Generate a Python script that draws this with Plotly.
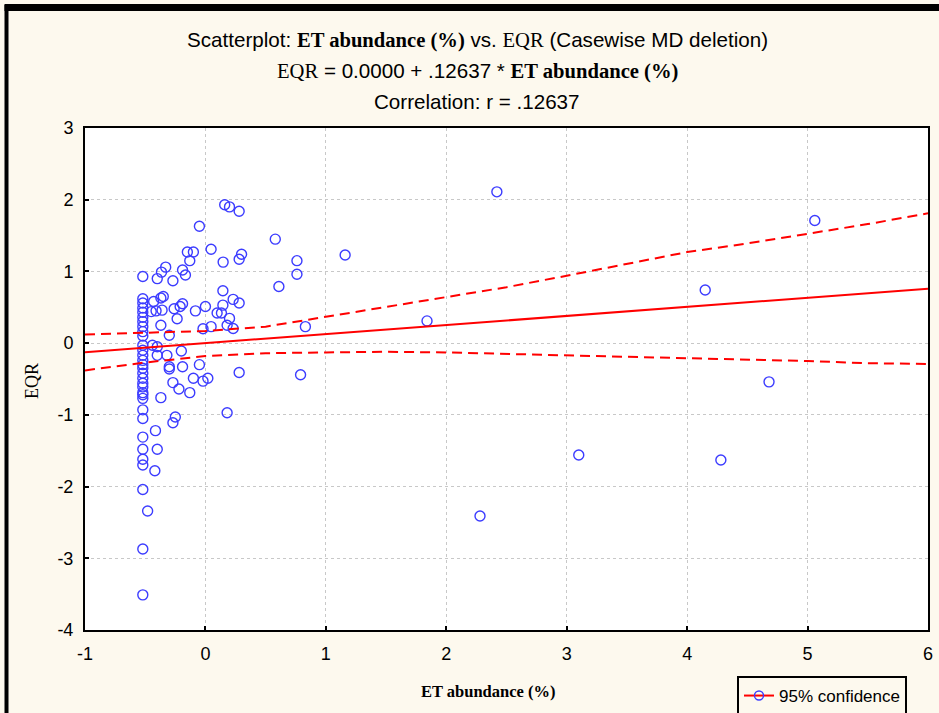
import plotly.graph_objects as go

# ---- data (standardized values) ----
col_x = -0.52
col_y = [0.93, 0.62, 0.56, 0.49, 0.43, 0.36, 0.30, 0.23, 0.16, 0.10, -0.03, -0.10,
         -0.17, -0.24, -0.30, -0.35, -0.42, -0.49, -0.56, -0.61, -0.69, -0.72, -0.77,
         -0.93, -1.05, -1.31, -1.48, -1.62, -1.70, -2.04, -2.87, -3.51]

other_x = [-0.48, -0.415, -0.40, -0.42, -0.25, -0.27, 0.18, -0.37, -0.27, -0.22, -0.13,
           -0.10, -0.02, 0.02, 0.28, 0.79, -0.05, -0.30, -0.30, -0.19, -0.20, -0.32, -0.40,
           -0.44, -0.40, -0.30, -0.02, 0.047, 0.23, 0.18, 0.20, -0.37, -0.235, -0.26, -0.21,
           -0.19, -0.083, 0.0, 0.097, 0.133, 0.145, 0.23, 0.28, 0.145, -0.43, -0.37, -0.35,
           -0.45, -0.41, -0.36, -0.40, -0.27, -0.365, -0.33, -0.19, -0.166, -0.15, -0.10,
           -0.13, 0.147, 0.047, -0.05, 0.16, 0.20, 0.28, 0.30, 0.28, 0.58, 0.76, 0.76, 0.61,
           1.16, 0.83, 1.84, 2.42, 5.06, 4.15, 4.68, 3.10, 4.28, 2.28]
other_y = [-2.34, -1.22, -1.48, -1.78, -1.03, -1.11, -0.97, -0.76, -0.55, -0.64, -0.69,
           -0.49, -0.53, -0.49, -0.41, -0.44, -0.30, -0.33, -0.36, -0.33, -0.11, -0.17, -0.17,
           -0.03, -0.05, 0.11, 0.20, 0.23, 0.205, 0.25, 0.345, 0.25, 0.34, 0.48, 0.51,
           0.55, 0.45, 0.51, 0.42, 0.42, 0.53, 0.61, 0.56, 0.73, 0.58, 0.63, 0.65,
           0.44, 0.45, 0.46, 0.90, 0.87, 0.99, 1.06, 1.02, 0.95, 1.27, 1.27,
           1.15, 1.13, 1.31, 1.63, 1.93, 1.90, 1.84, 1.24, 1.17, 1.45, 1.15, 0.96, 0.79,
           1.23, 0.23, 0.31, 2.11, 1.71, 0.74, -0.54, -1.56, -1.63, -2.41]

et_abundance = [col_x] * len(col_y) + other_x
eqr = col_y + other_y

# regression line
intercept = 0.0
slope = 0.12637
line_x = [-1, 6]
line_y = [intercept + slope * v for v in line_x]

# 95% confidence bands
band_x = [-1, -0.5, 0, 0.5, 1, 1.5, 2, 2.5, 3, 3.5, 4, 4.5, 5, 5.5, 6]
band_upper = [0.12, 0.14, 0.17, 0.23, 0.37, 0.50, 0.64, 0.78, 0.94, 1.10, 1.27, 1.39, 1.52, 1.66, 1.81]
band_lower = [-0.38, -0.27, -0.18, -0.14, -0.13, -0.12, -0.13, -0.15, -0.17, -0.18, -0.20, -0.22, -0.25, -0.28, -0.29]

x_ticks = [-1, 0, 1, 2, 3, 4, 5, 6]
y_ticks = [-4, -3, -2, -1, 0, 1, 2, 3]

SANS = "Liberation Sans, Arial, sans-serif"
SERIF = "Liberation Serif, Times New Roman, serif"
BG = "#FDF9EE"
BLUE = "#3C3CFF"
RED = "#FF0000"

fig = go.Figure()
fig.add_trace(go.Scatter(x=et_abundance, y=eqr, mode="markers",
                         marker=dict(symbol="circle-open", size=10, color=BLUE,
                                     line=dict(width=1.4, color=BLUE)),
                         showlegend=False, hoverinfo="skip"))
fig.add_trace(go.Scatter(x=line_x, y=line_y, mode="lines",
                         line=dict(color=RED, width=2), showlegend=False))
fig.add_trace(go.Scatter(x=band_x, y=band_upper, mode="lines",
                         line=dict(color=RED, width=2, dash="10px,6px"), showlegend=False))
fig.add_trace(go.Scatter(x=band_x, y=band_lower, mode="lines",
                         line=dict(color=RED, width=2, dash="10px,6px"), showlegend=False))
fig.add_trace(go.Scatter(x=[None], y=[None], mode="lines+markers", name="95% confidence",
                         line=dict(color=RED, width=2),
                         marker=dict(symbol="circle-open", size=9, color=BLUE,
                                     line=dict(width=1.4, color=BLUE))))

L, R, T, B = 85, 11, 128, 83
W, H = 939, 713
pw, ph = W - L - R, H - T - B

def px_x(px):
    return (px - L) / pw

def px_y(py):
    return (H - B - py) / ph

title_lines = [
    ('Scatterplot: <span style="font-family:Liberation Serif"><b>ET abundance (%)</b></span> vs. '
     '<span style="font-family:Liberation Serif">EQR</span> (Casewise MD deletion)', 40),
    ('<span style="font-family:Liberation Serif">EQR</span> = 0.0000 + .12637 * '
     '<span style="font-family:Liberation Serif"><b>ET abundance (%)</b></span>', 71),
    ('Correlation: r = .12637', 101),
]
annotations = []
for txt, py in title_lines:
    annotations.append(dict(text=txt, x=px_x(477), y=px_y(py), xref="paper", yref="paper",
                            xanchor="center", yanchor="middle", showarrow=False,
                            font=dict(family=SANS, size=20.6, color="black")))
annotations.append(dict(text="<b>ET abundance (%)</b>", x=px_x(488), y=px_y(691),
                        xref="paper", yref="paper", xanchor="center", yanchor="middle",
                        showarrow=False, font=dict(family=SERIF, size=16.5, color="black")))
annotations.append(dict(text="EQR", x=px_x(32), y=px_y(381), xref="paper", yref="paper",
                        xanchor="center", yanchor="middle", textangle=-90, showarrow=False,
                        font=dict(family=SERIF, size=18, color="black")))

shapes = [
    dict(type="rect", xref="paper", yref="paper", x0=px_x(4.5), x1=px_x(8.5),
         y0=px_y(5), y1=px_y(713), line=dict(width=0), fillcolor="black", layer="above"),
    dict(type="rect", xref="paper", yref="paper", x0=px_x(4.5), x1=px_x(945),
         y0=px_y(4), y1=px_y(11), line=dict(width=0), fillcolor="black", layer="above"),
]

fig.update_layout(
    width=W, height=H,
    margin=dict(l=L, r=R, t=T, b=B, autoexpand=False),
    paper_bgcolor=BG, plot_bgcolor="white",
    font=dict(family=SANS, size=17, color="black"),
    annotations=annotations, shapes=shapes,
    legend=dict(x=px_x(737), y=px_y(676), xanchor="left", yanchor="top",
                bgcolor=BG, bordercolor="black", borderwidth=2,
                font=dict(family=SANS, size=17, color="black")),
    showlegend=True,
)
fig.update_xaxes(range=[-1, 6], tickvals=x_ticks, ticktext=[str(v) for v in x_ticks],
                 showgrid=True, gridcolor="#C8C8C8", griddash="dot", gridwidth=1,
                 zeroline=False, showline=True, linecolor="black", linewidth=2, mirror=True,
                 ticks="inside", ticklen=4, tickcolor="black", tickwidth=2,
                 ticklabelstandoff=6, automargin=False,
                 tickfont=dict(family=SANS, size=18))
fig.update_yaxes(range=[-4, 3], tickvals=y_ticks, ticktext=[str(v) for v in y_ticks],
                 showgrid=True, gridcolor="#C8C8C8", griddash="dot", gridwidth=1,
                 zeroline=False, showline=True, linecolor="black", linewidth=2, mirror=True,
                 ticks="inside", ticklen=4, tickcolor="black", tickwidth=2,
                 ticklabelstandoff=6, automargin=False,
                 tickfont=dict(family=SANS, size=18))

fig.write_html("out.html")
